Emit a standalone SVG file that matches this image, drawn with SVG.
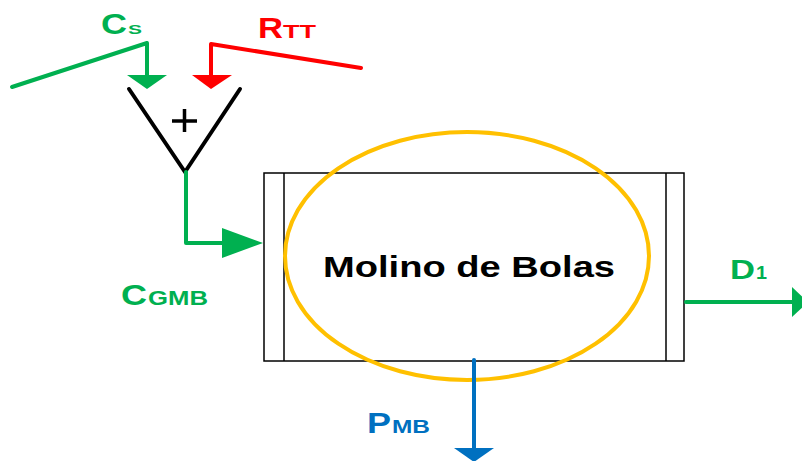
<svg xmlns="http://www.w3.org/2000/svg" width="802" height="461" viewBox="0 0 802 461">
<style>
.lbl{font-family:"Liberation Sans",Arial,sans-serif;font-weight:bold}
.g{fill:#00B050}.gs{stroke:#00B050}
.r{fill:#FF0000}.rs{stroke:#FF0000}
.b{fill:#0070C0}.bs{stroke:#0070C0}
.ln{fill:none;stroke-width:4;stroke-linecap:round;stroke-linejoin:round}
.box{fill:none;stroke:#000;stroke-width:1.5}
</style>
<rect width="802" height="461" fill="#fff"/>
<g id="summer">
<polyline points="129,89 185,172 240,89" fill="none" stroke="#000" stroke-width="4" stroke-linecap="round"/>
<path d="M172,121 H197 M184.5,109 V132" stroke="#000" stroke-width="3.5"/>
</g>
<g id="molino">
<rect x="264" y="173" width="420" height="188" class="box"/>
<line x1="284" y1="173" x2="284" y2="361" class="box"/>
<line x1="666" y1="173" x2="666" y2="361" class="box"/>
<ellipse cx="467" cy="256" rx="182" ry="124" fill="none" stroke="#FFC000" stroke-width="4"/>
<text x="323" y="277" class="lbl" font-size="30" textLength="292" lengthAdjust="spacingAndGlyphs" fill="#000">Molino de Bolas</text>
</g>
<g id="connectors">
<polyline points="12,87 147,43 147,76" class="ln gs"/>
<polygon points="127,75 167,75 147,89" class="g"/>
<polyline points="361,68 211,44 211,76" class="ln rs"/>
<polygon points="192,75 232,75 211,89" class="r"/>
<polyline points="186,172 186,243 224,243" class="ln gs"/>
<polygon points="222,228 263,243 222,258" class="g"/>
<line x1="474" y1="360" x2="474" y2="449" class="ln bs"/>
<polygon points="454,448 494,448 474,462" class="b"/>
<line x1="686" y1="302" x2="794" y2="302" class="ln gs"/>
<polygon points="792,287 808,302 792,317" class="g"/>
</g>
<g id="labels">
<text x="101" y="34" class="lbl g" font-size="29" textLength="26" lengthAdjust="spacingAndGlyphs">C</text>
<text x="128" y="34" class="lbl g" font-size="13" textLength="14" lengthAdjust="spacingAndGlyphs">S</text>
<text x="258" y="38" class="lbl r" font-size="29" textLength="25" lengthAdjust="spacingAndGlyphs">R</text>
<text x="283" y="38" class="lbl r" font-size="18" textLength="33" lengthAdjust="spacingAndGlyphs">TT</text>
<text x="121" y="305" class="lbl g" font-size="29" textLength="26" lengthAdjust="spacingAndGlyphs">C</text>
<text x="148" y="305" class="lbl g" font-size="21" textLength="60" lengthAdjust="spacingAndGlyphs">GMB</text>
<text x="367" y="433" class="lbl b" font-size="29" textLength="24" lengthAdjust="spacingAndGlyphs">P</text>
<text x="392" y="433" class="lbl b" font-size="19" textLength="38" lengthAdjust="spacingAndGlyphs">MB</text>
<text x="730" y="279" class="lbl g" font-size="28" textLength="25" lengthAdjust="spacingAndGlyphs">D</text>
<text x="756" y="279" class="lbl g" font-size="18" textLength="11" lengthAdjust="spacingAndGlyphs">1</text>
</g>
</svg>
